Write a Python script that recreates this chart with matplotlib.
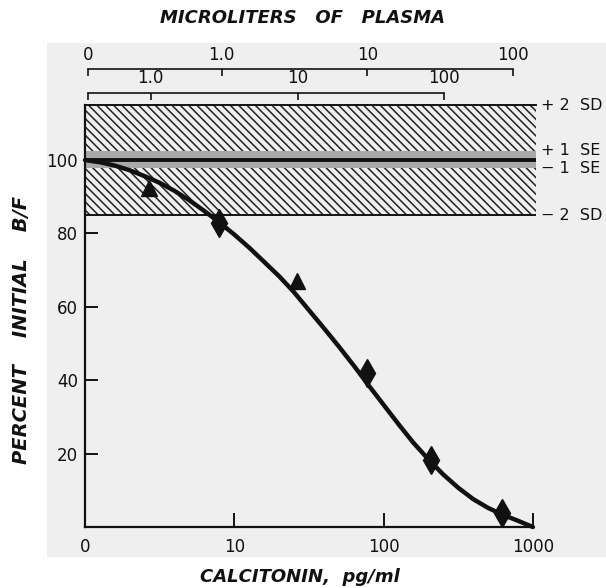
import matplotlib
matplotlib.use("Agg")
import matplotlib.pyplot as plt
from matplotlib.patches import Rectangle
import matplotlib.transforms as mtransforms

# ---------------- data ----------------
# main (bottom) axis: calcitonin, pg/ml  (log scale; the origin is labelled 0)
x_ticks = [1, 10, 100, 1000]
x_ticklabels = ["0", "10", "100", "1000"]
y_ticks = [20, 40, 60, 80, 100]
y_ticklabels = ["20", "40", "60", "80", "100"]

# upper scales: microliters of plasma
top1_ticks = [0.12, 1, 10, 100]
top1_labels = ["0", "1.0", "10", "100"]
top2_ticks = [0.372, 1, 10, 100]
top2_labels = ["", "1.0", "10", "100"]

# reference bands (percent initial B/F)
sd_low, sd_high = 85, 115
se_low, se_high = 97.8, 102.5
band_labels = ["+ 2  SD", "+ 1  SE", "\u2212 1  SE", "\u2212 2  SD"]
band_levels = [sd_high, se_high, se_low, sd_low]

# standard curve
curve_x = [1, 1.26, 1.58, 2.0, 2.51, 3.16, 3.98, 5.01, 6.31, 7.94, 10, 12.6,
           15.8, 20, 25.1, 31.6, 39.8, 50.1, 63.1, 79.4, 100, 126, 158, 200,
           251, 316, 398, 501, 631, 794, 1000]
curve_y = [100, 99.4, 98.5, 97.2, 95.6, 93.8, 91.6, 89.0, 86.1, 83.0, 79.7, 76.1,
           72.3, 68.3, 64.0, 59.1, 54.2, 49.2, 44.0, 38.6, 33.3, 28.0, 23.0, 18.4,
           14.3, 10.7, 7.6, 5.2, 3.3, 1.7, 0.0]

# measured points
tri_x = [2.70, 26.2]
tri_y = [92.3, 67.1]
dia_x = [7.9, 77.8, 207, 618]
dia_y = [82.9, 41.9, 18.3, 3.7]

# ---------------- layout helpers ----------------
W, H = 606, 588
fig = plt.figure(figsize=(W / 100, H / 100), dpi=100)
fig.patch.set_facecolor("white")


def rect(l, t, r, b):
    return [l / W, 1 - b / H, (r - l) / W, (b - t) / H]


# paper tone of the scanned area
fig.patches.append(Rectangle((47 / W, 1 - 557 / H), (606 - 47) / W, (557 - 43) / H,
                             transform=fig.transFigure, facecolor="#efefef",
                             edgecolor="none", zorder=-5))

plt.rcParams["hatch.linewidth"] = 1.1
ink = "#111111"
tick_fs = 12

# ---------------- main axes ----------------
x_right = 10 ** ((536 - 85) / 149.3)
ax = fig.add_axes(rect(85, 105, 536, 527))
ax.set_facecolor("none")
ax.set_xscale("log")
ax.set_xlim(1, x_right)
ax.set_ylim(0, sd_high)

ax.fill_between([1, x_right], sd_low, sd_high, facecolor="none",
                edgecolor="#222222", hatch="\\\\\\\\", linewidth=0, zorder=1)
ax.axhspan(se_low, se_high, facecolor="#a9a9a9", edgecolor="none", zorder=2)
ax.axhline(sd_high, color=ink, lw=1.4, zorder=3, clip_on=False)
ax.axhline(sd_low, color=ink, lw=1.4, zorder=3)
ax.axhline(100, color=ink, lw=2.8, zorder=3)

ax.plot(curve_x, curve_y, color=ink, lw=3.2, solid_capstyle="round",
        solid_joinstyle="round", zorder=4, clip_on=False)
ax.plot(tri_x, tri_y, linestyle="none", marker="^", ms=11, color=ink, zorder=5)
ax.plot(dia_x, dia_y, linestyle="none", marker="d", ms=14, color=ink, zorder=5)

for s in ["top", "right"]:
    ax.spines[s].set_visible(False)
ax.spines["bottom"].set_bounds(1, 1000)
ax.spines["left"].set_linewidth(1.6)
ax.spines["bottom"].set_linewidth(1.6)
for s in ["left", "bottom"]:
    ax.spines[s].set_color(ink)

ax.set_xticks(x_ticks)
ax.set_xticklabels(x_ticklabels)
ax.xaxis.set_minor_locator(matplotlib.ticker.NullLocator())
ax.set_yticks(y_ticks)
ax.set_yticklabels(y_ticklabels)
ax.tick_params(axis="x", direction="in", length=10, width=1.4, pad=8,
               labelsize=tick_fs, colors=ink)
ax.tick_params(axis="y", direction="in", length=9, width=1.4, pad=5,
               labelsize=tick_fs, colors=ink)

trans = mtransforms.blended_transform_factory(ax.transAxes, ax.transData)
for lab, lev in zip(band_labels, band_levels):
    ax.text(1.012, lev, lab, transform=trans, ha="left", va="center",
            fontsize=11.5, color=ink)

# ---------------- upper scales ----------------
def top_scale(l, r, y, lo, hi, ticks, labels):
    a = fig.add_axes(rect(l, y, r, y + 8))
    a.set_facecolor("none")
    a.set_xscale("log")
    a.set_xlim(lo, hi)
    a.set_yticks([])
    for s in ["left", "right", "bottom"]:
        a.spines[s].set_visible(False)
    a.spines["top"].set_linewidth(1.2)
    a.spines["top"].set_color(ink)
    a.set_xticks(ticks)
    a.set_xticklabels(labels)
    a.xaxis.set_minor_locator(matplotlib.ticker.NullLocator())
    a.tick_params(axis="x", top=True, bottom=False, labeltop=True,
                  labelbottom=False, direction="in", length=5, width=1.2,
                  pad=4, labelsize=tick_fs, colors=ink)
    return a

top_scale(87.7, 512.7, 69.3, top1_ticks[0], 100, top1_ticks, top1_labels)
top_scale(87.7, 444.3, 92.7, top2_ticks[0], 100, top2_ticks, top2_labels)

# ---------------- axis titles ----------------
title_kw = dict(fontweight="bold", fontstyle="italic", color=ink)
fig.text(302 / W, 1 - 18 / H, "MICROLITERS   OF   PLASMA", ha="center",
         va="center", fontsize=13, **title_kw)
fig.text(300 / W, 1 - 577 / H, "CALCITONIN,  pg/ml", ha="center",
         va="center", fontsize=13, **title_kw)
fig.text(22 / W, 1 - 330 / H, "PERCENT    INITIAL    B/F", ha="center",
         va="center", rotation=90, fontsize=14, **title_kw)

fig.savefig("out.png", dpi=100)
